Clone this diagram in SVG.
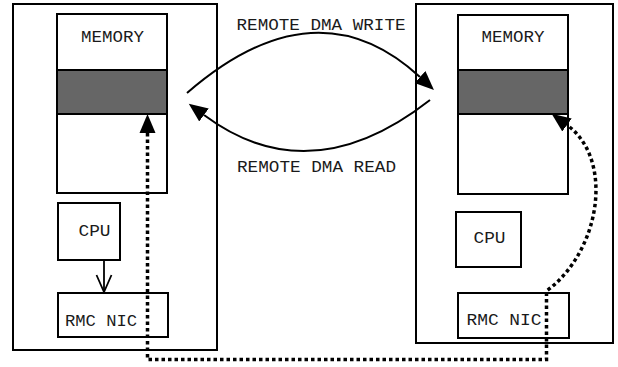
<svg xmlns="http://www.w3.org/2000/svg" width="618" height="367" viewBox="0 0 618 367">
  <style>
    .box { fill: #ffffff; stroke: #000000; stroke-width: 2; }
    .band { fill: #666666; stroke: #000000; stroke-width: 2; }
    .lbl { font-family: "Liberation Mono", "DejaVu Sans Mono", monospace; font-size: 16px; fill: #1a1a1a; }
    .arc { fill: none; stroke: #000000; stroke-width: 2; }
    .dots { fill: none; stroke: #000000; stroke-width: 3.5; stroke-dasharray: 3.5 3; }
    .thin { fill: none; stroke: #000000; stroke-width: 1.8; }
  </style>
  <defs>
    <marker id="head" markerUnits="userSpaceOnUse" markerWidth="22" markerHeight="20" viewBox="0 -10 22 20" refX="0" refY="0" orient="auto-start-reverse">
      <path d="M0,-8 L19,0 L0,8 z" fill="#000000"/>
    </marker>
  </defs>

  <!-- left host -->
  <g id="host-a">
    <rect class="box" x="13" y="4" width="204" height="346"/>
  </g>
  <g id="memory-a">
    <rect class="box" x="57" y="14" width="110" height="179"/>
    <rect class="band" x="57" y="70" width="110" height="44"/>
    <text class="lbl" x="81" y="41.5" textLength="63" lengthAdjust="spacingAndGlyphs">MEMORY</text>
  </g>
  <g id="cpu-a">
    <rect class="box" x="58" y="203" width="62" height="57"/>
    <text class="lbl" x="78.5" y="236" textLength="32" lengthAdjust="spacingAndGlyphs">CPU</text>
  </g>
  <g id="nic-a">
    <rect class="box" x="58" y="293" width="110" height="44"/>
    <text class="lbl" x="65" y="325.5" textLength="72" lengthAdjust="spacingAndGlyphs">RMC NIC</text>
  </g>

  <!-- right host -->
  <g id="host-b">
    <rect class="box" x="416" y="4" width="197" height="339"/>
  </g>
  <g id="memory-b">
    <rect class="box" x="458" y="15" width="110" height="179"/>
    <rect class="band" x="458" y="70" width="110" height="44"/>
    <text class="lbl" x="481.5" y="41.5" textLength="63" lengthAdjust="spacingAndGlyphs">MEMORY</text>
  </g>
  <g id="cpu-b">
    <rect class="box" x="456" y="212" width="65" height="55"/>
    <text class="lbl" x="473.5" y="243" textLength="32" lengthAdjust="spacingAndGlyphs">CPU</text>
  </g>
  <g id="nic-b">
    <rect class="box" x="458" y="293" width="111" height="45"/>
    <text class="lbl" x="466.5" y="324.5" textLength="75" lengthAdjust="spacingAndGlyphs">RMC NIC</text>
  </g>

  <!-- connectors -->
  <g id="connectors">
    <!-- remote write / read arcs -->
    <path class="arc" d="M187,93 Q316,-19 420,77" marker-end="url(#head)"/>
    <path class="arc" d="M430,100 Q310,194 204,115" marker-end="url(#head)"/>
    <text class="lbl" x="236.5" y="30" textLength="169" lengthAdjust="spacingAndGlyphs">REMOTE DMA WRITE</text>
    <text class="lbl" x="237" y="172" textLength="159" lengthAdjust="spacingAndGlyphs">REMOTE DMA READ</text>

    <!-- CPU to NIC -->
    <path class="thin" d="M104,260 V292"/>
    <path class="thin" d="M96.5,275 L104,292 L111.5,275"/>

    <!-- NIC-driven transfer between memories -->
    <path class="dots" d="M147.5,133 V359.5 H546.5 V291 C600,252 615,160 567,125" marker-start="url(#head)" marker-end="url(#head)"/>
  </g>
</svg>
